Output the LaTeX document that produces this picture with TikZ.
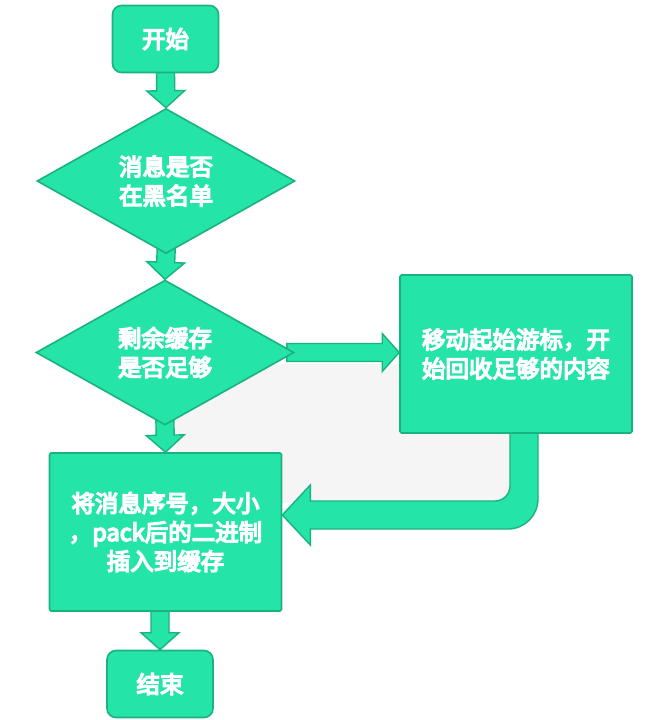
\documentclass[tikz,border=0pt]{standalone}
\usepackage{fontspec}
\newfontfamily\cjk[FakeBold=6]{Noto Sans CJK SC}
\usetikzlibrary{shapes.geometric,calc,backgrounds}
\definecolor{mint}{RGB}{36,228,168}
\definecolor{mintline}{RGB}{26,178,126}
\definecolor{paper}{RGB}{244,245,244}

\tikzset{
  flowbox/.style={draw=mintline,fill=mint,line width=1.6pt,text=white,
    font=\cjk\fontsize{23.5}{29}\selectfont,align=center,inner sep=0pt},
  startstop/.style={flowbox,rounded corners=9pt,minimum width=106pt,minimum height=67pt},
  process/.style={flowbox,rounded corners=1.5pt,minimum width=232pt,minimum height=158pt},
  decision/.style={flowbox,diamond,minimum width=258pt,minimum height=128pt},
  flowarrow/.style={draw=mintline,fill=mint,line width=1.4pt,line join=miter},
}

\begin{document}
\begin{tikzpicture}[x=1pt,y=-1pt]
    \useasboundingbox (0,0) rectangle (655,720);
    % steps
    \node[startstop] (start) at (165.5,39) {开始};
    \node[decision] (black) at (166,181) {消息是否\\在黑名单};
    \node[decision] (space) at (165,352.5) {剩余缓存\\是否足够};
    \node[process] (move) at (516,354) {移动起始游标，开\\始回收足够的内容};
    \node[process] (insert) at (165.5,532) {将消息序号，大小\\，pack后的二进制\\插入到缓存};
    \node[startstop] (stop) at (160,684) {结束};
    % fat arrows behind the steps
    \begin{scope}[on background layer]
        \fill[paper] (176,364) rectangle (512,503);
        \coordinate (tomove) at (space.east -| move.west);
        \coordinate (tostop) at (insert.south -| stop.north);
        \foreach \a/\b in {start.south/black.north, black.south/space.north,
            space.east/tomove, space.south/insert.north, tostop/stop.north}{
            \coordinate (s) at ($(\a)!-8pt!(\b)$);
            \coordinate (h) at ($(\b)!17pt!(\a)$);
            \filldraw[flowarrow] ($(s)!9pt!90:(\b)$) -- ($(h)!9pt!90:(\b)$)
                -- ($(h)!19pt!90:(\b)$) -- (\b) -- ($(h)!19pt!-90:(\b)$)
                -- ($(h)!9pt!-90:(\b)$) -- ($(s)!9pt!-90:(\b)$) -- cycle;
        }
        % way back from move to insert
        \path (move.south) ++(8,-6) coordinate (back);
        \coordinate (backtip) at ($(insert.east)+(0,-17)$);
        \path (back) ++(14,0) coordinate (o1) (back) ++(-14,0) coordinate (i1)
            (backtip) ++(0,14) coordinate (o2) (backtip) ++(0,-14) coordinate (i2);
        \filldraw[flowarrow] (o1) [rounded corners=30pt] -- (o1 |- o2)
            [sharp corners] -- ($(backtip)+(28,14)$) -- ($(backtip)+(28,30)$)
            -- (backtip) -- ($(backtip)+(28,-30)$) -- ($(backtip)+(28,-14)$)
            [rounded corners=15pt] -- (i1 |- i2) [sharp corners] -- (i1) -- cycle;
    \end{scope}
\end{tikzpicture}
\end{document}
